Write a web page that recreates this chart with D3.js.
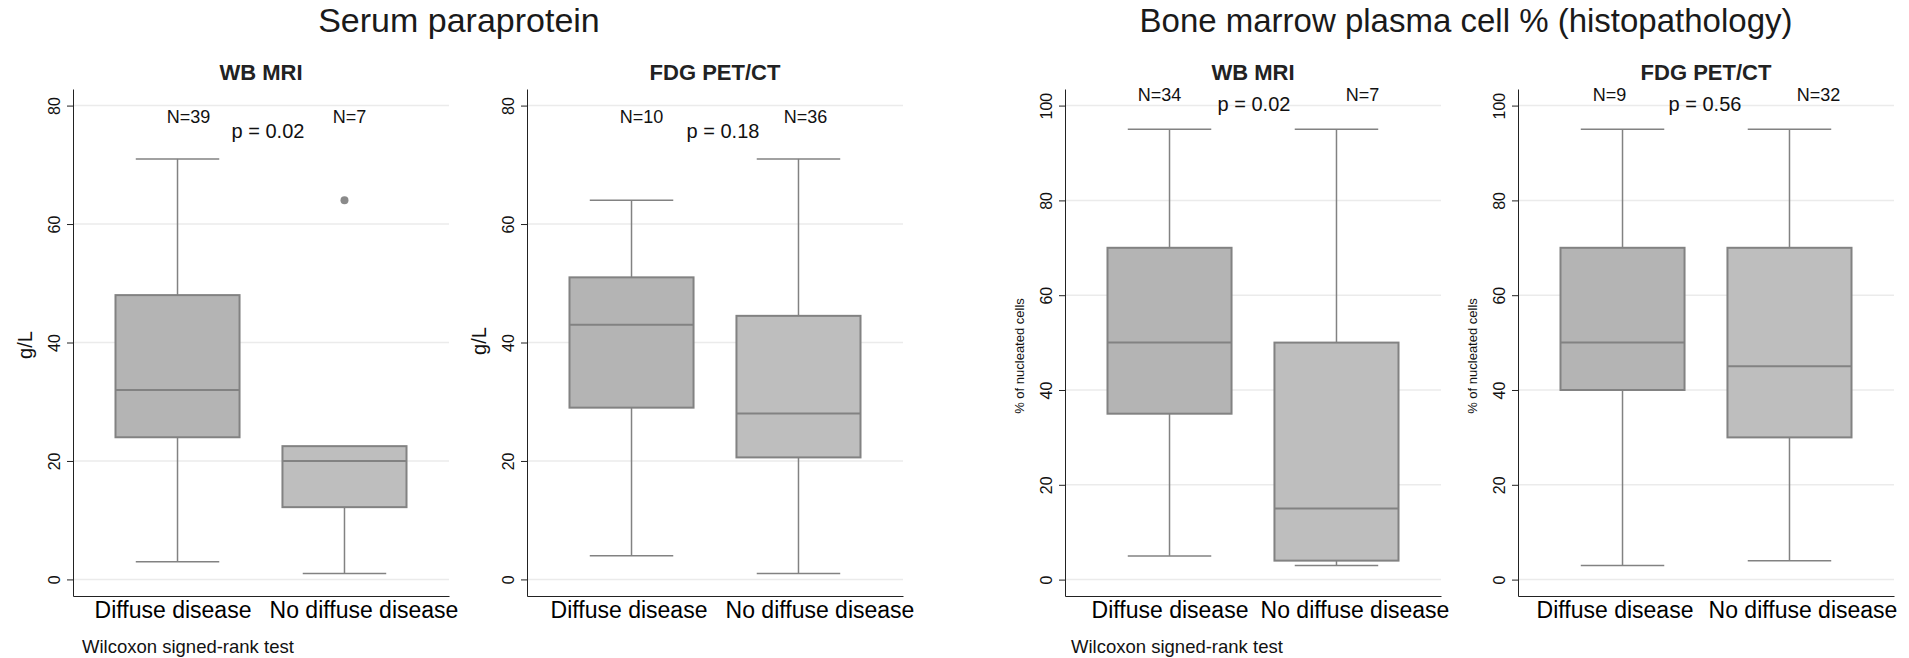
<!DOCTYPE html>
<html>
<head>
<meta charset="utf-8">
<script src="https://cdn.jsdelivr.net/npm/d3@7"></script>
<style>
  body { margin: 0; background: #fff; }
  text { font-family: "Liberation Sans", Arial, sans-serif; }
</style>
</head>
<body>
<div id="chart"></div>
<script>
// Data
const categories = ["Diffuse disease", "No diffuse disease"];
const groupTitles = ["Serum paraprotein", "Bone marrow plasma cell % (histopathology)"];
const panelTitles = ["WB MRI", "FDG PET/CT", "WB MRI", "FDG PET/CT"];
const yTitles = ["g/L", "g/L", "% of nucleated cells", "% of nucleated cells"];
const footnote = "Wilcoxon signed-rank test";

// box stats: [lower whisker, q1, median, q3, upper whisker]
const serumMri = [[3, 24, 32, 48, 71], [1, 12.2, 20, 22.5, 22.5]];
const serumPet = [[4, 29, 43, 51, 64], [1, 20.6, 28, 44.5, 71]];
const marrowMri = [[5, 35, 50, 70, 95], [3, 4, 15, 50, 95]];
const marrowPet = [[3, 40, 50, 70, 95], [4, 30, 45, 70, 95]];
const serumMriOutliers = [[], [64]];
const noOutliers = [[], []];

const nLabels = [["N=39", "N=7"], ["N=10", "N=36"], ["N=34", "N=7"], ["N=9", "N=32"]];
const pLabels = ["p = 0.02", "p = 0.18", "p = 0.02", "p = 0.56"];
const serumTicks = [0, 20, 40, 60, 80];
const marrowTicks = [0, 20, 40, 60, 80, 100];

// Layout
const width = 1909, height = 658;
const plotTop = 89, plotBottom = 596, plotW = 376;
const fills = ["#b4b4b4", "#bebebe"];
const lineCol = "#828282";

const panels = [
  { left: 73, stats: serumMri, outliers: serumMriOutliers, ticks: serumTicks, dom: [-2.8, 82.8],
    nY: 77, pY: 74.6, nDx: [11, 5], pDx: 7, catDx: [-5, 19], yTitleSize: 20, yTitleY: 345 },
  { left: 527, stats: serumPet, outliers: noOutliers, ticks: serumTicks, dom: [-2.8, 82.8],
    nY: 77, pY: 74.6, nDx: [10, 7], pDx: 8, catDx: [-3, 21], yTitleSize: 20, yTitleY: 341 },
  { left: 1065, stats: marrowMri, outliers: noOutliers, ticks: marrowTicks, dom: [-3.46, 103.5],
    nY: 101, pY: 98.8, nDx: [-10, 26], pDx: 1, catDx: [0, 18], yTitleSize: 13, yTitleY: 356 },
  { left: 1518, stats: marrowPet, outliers: noOutliers, ticks: marrowTicks, dom: [-3.46, 103.5],
    nY: 101, pY: 98.8, nDx: [-13, 29], pDx: -1, catDx: [-8, 13], yTitleSize: 13, yTitleY: 356 },
];

const svg = d3.select("#chart")
  .append("svg")
  .attr("width", width)
  .attr("height", height);

// Big titles
svg.append("text")
  .attr("x", 459).attr("y", 32)
  .attr("text-anchor", "middle")
  .attr("font-size", 34)
  .attr("fill", "#1a1a1a")
  .text(groupTitles[0]);

svg.append("text")
  .attr("x", 1466).attr("y", 32)
  .attr("text-anchor", "middle")
  .attr("font-size", 33)
  .attr("fill", "#1a1a1a")
  .text(groupTitles[1]);

const x = d3.scalePoint()
  .domain(categories)
  .range([0, plotW])
  .padding(0.626);
const step = x.step();
const boxW = step * 0.743;
const capW = step * 0.5;

panels.forEach((p, i) => {
  const y = d3.scaleLinear().domain(p.dom).range([plotBottom, plotTop]);
  const g = svg.append("g").attr("transform", `translate(${p.left},0)`);

  // gridlines
  g.selectAll(".grid")
    .data(p.ticks)
    .join("line")
    .attr("x1", 0).attr("x2", plotW)
    .attr("y1", d => y(d)).attr("y2", d => y(d))
    .attr("stroke", "#ebebeb")
    .attr("stroke-width", 1.5);

  // y axis
  const yAxis = g.append("g")
    .call(d3.axisLeft(y).tickValues(p.ticks).tickSize(6).tickSizeOuter(0));
  yAxis.select(".domain").attr("stroke", "#222");
  yAxis.selectAll(".tick line").attr("stroke", "#222");
  yAxis.selectAll(".tick text")
    .attr("transform", "rotate(-90)")
    .attr("x", 0).attr("y", -13).attr("dy", 0)
    .attr("text-anchor", "middle")
    .attr("font-size", 16)
    .attr("font-family", "Liberation Sans, Arial, sans-serif")
    .attr("fill", "#111");

  // x axis
  const xAxis = g.append("g")
    .attr("transform", `translate(0,${plotBottom})`)
    .call(d3.axisBottom(x).tickSize(0).tickSizeOuter(0));
  xAxis.select(".domain").attr("stroke", "#222");
  xAxis.selectAll(".tick text")
    .attr("y", 22).attr("dy", 0)
    .attr("dx", (d, j) => p.catDx[j])
    .attr("font-size", 23)
    .attr("font-family", "Liberation Sans, Arial, sans-serif")
    .attr("fill", "#000");

  // y title
  g.append("text")
    .attr("transform", `translate(-41,${p.yTitleY}) rotate(-90)`)
    .attr("text-anchor", "middle")
    .attr("font-size", p.yTitleSize)
    .attr("fill", "#111")
    .text(yTitles[i]);

  // panel title
  g.append("text")
    .attr("x", plotW / 2).attr("y", 80)
    .attr("text-anchor", "middle")
    .attr("font-size", 22)
    .attr("font-weight", "bold")
    .attr("fill", "#222")
    .text(panelTitles[i]);

  // boxes
  const boxes = g.selectAll(".box")
    .data(p.stats)
    .join("g")
    .attr("transform", (d, j) => `translate(${x(categories[j])},0)`);

  // upper whisker
  boxes.filter(d => d[4] > d[3]).append("line")
    .attr("y1", d => y(d[3])).attr("y2", d => y(d[4]))
    .attr("stroke", lineCol).attr("stroke-width", 1.5);
  boxes.filter(d => d[4] > d[3]).append("line")
    .attr("x1", -capW / 2).attr("x2", capW / 2)
    .attr("y1", d => y(d[4])).attr("y2", d => y(d[4]))
    .attr("stroke", lineCol).attr("stroke-width", 1.5);
  // lower whisker
  boxes.append("line")
    .attr("y1", d => y(d[1])).attr("y2", d => y(d[0]))
    .attr("stroke", lineCol).attr("stroke-width", 1.5);
  boxes.append("line")
    .attr("x1", -capW / 2).attr("x2", capW / 2)
    .attr("y1", d => y(d[0])).attr("y2", d => y(d[0]))
    .attr("stroke", lineCol).attr("stroke-width", 1.5);

  boxes.append("rect")
    .attr("x", -boxW / 2)
    .attr("width", boxW)
    .attr("y", d => y(d[3]))
    .attr("height", d => y(d[1]) - y(d[3]))
    .attr("fill", (d, j) => fills[j])
    .attr("stroke", lineCol)
    .attr("stroke-width", 2);

  boxes.append("line")
    .attr("x1", -boxW / 2).attr("x2", boxW / 2)
    .attr("y1", d => y(d[2])).attr("y2", d => y(d[2]))
    .attr("stroke", lineCol).attr("stroke-width", 2);

  // outliers
  p.outliers.forEach((vals, j) => {
    g.selectAll(null)
      .data(vals)
      .join("circle")
      .attr("cx", x(categories[j]))
      .attr("cy", d => y(d))
      .attr("r", 4)
      .attr("fill", "#8a8a8a");
  });

  // N labels
  g.selectAll(".n")
    .data(nLabels[i])
    .join("text")
    .attr("x", (d, j) => x(categories[j]) + p.nDx[j])
    .attr("y", y(p.nY))
    .attr("text-anchor", "middle")
    .attr("font-size", 18)
    .attr("fill", "#111")
    .text(d => d);

  // p value
  g.append("text")
    .attr("x", plotW / 2 + p.pDx)
    .attr("y", y(p.pY))
    .attr("text-anchor", "middle")
    .attr("font-size", 20)
    .attr("fill", "#111")
    .text(pLabels[i]);
});

// footnotes
svg.append("text")
  .attr("x", 82).attr("y", 653)
  .attr("font-size", 18.5)
  .attr("fill", "#111")
  .text(footnote);

svg.append("text")
  .attr("x", 1071).attr("y", 653)
  .attr("font-size", 18.5)
  .attr("fill", "#111")
  .text(footnote);
</script>
</body>
</html>
